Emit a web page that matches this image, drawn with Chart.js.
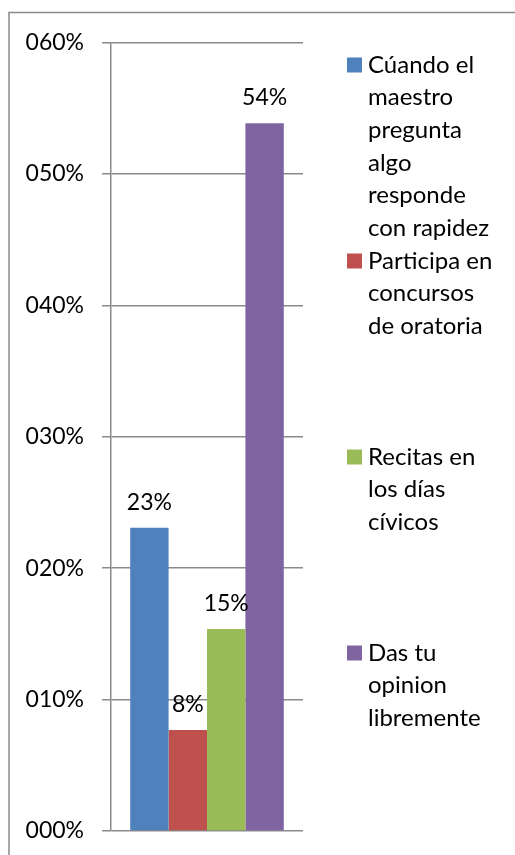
<!DOCTYPE html>
<html>
<head>
<meta charset="utf-8">
<script src="https://cdn.jsdelivr.net/npm/chart.js@4/dist/chart.umd.min.js"></script>
<style>
html,body{margin:0;padding:0;background:#fff;}
#wrap{position:relative;width:515px;height:855px;}
</style>
</head>
<body>
<div id="wrap"><canvas id="c" width="515" height="855"></canvas></div>
<script>
const categories = [''];
const seriesNames = [
  ['Cúando el','maestro','pregunta','algo','responde','con rapidez'],
  ['Participa en','concursos','de oratoria'],
  ['Recitas en','los días','cívicos'],
  ['Das tu','opinion','libremente']
];
const seriesValues = [0.2308, 0.0769, 0.1538, 0.5385];
const seriesColors = ['#4F81BD', '#C0504D', '#9BBB59', '#8064A2'];
const yTicks = [0, 0.1, 0.2, 0.3, 0.4, 0.5, 0.6];

const FONT = 'Lato, "Open Sans", sans-serif';
const GRID = '#8a8a8a';

function fmtTick(v){
  const p = Math.round(v*100);
  return String(p).padStart(3,'0') + '%';
}

const frame = {
  id:'frame',
  beforeDraw(chart){
    const ctx = chart.ctx;
    ctx.save();
    ctx.strokeStyle = GRID;
    ctx.lineWidth = 1.5;
    ctx.beginPath();
    ctx.moveTo(9, 855);
    ctx.lineTo(9, 12.5);
    ctx.lineTo(515, 12.5);
    ctx.stroke();
    ctx.restore();
  }
};

const valueLabels = {
  id:'valueLabels',
  afterDatasetsDraw(chart){
    const ctx = chart.ctx;
    ctx.save();
    ctx.font = '23px ' + FONT;
    ctx.fillStyle = '#000';
    ctx.textAlign = 'center';
    ctx.textBaseline = 'alphabetic';
    chart.data.datasets.forEach((ds, i) => {
      const meta = chart.getDatasetMeta(i);
      meta.data.forEach((bar, j) => {
        const v = ds.data[j];
        ctx.fillText(Math.round(v*100) + '%', bar.x, bar.y - 18);
      });
    });
    ctx.restore();
  }
};

const sideLegend = {
  id:'sideLegend',
  afterDraw(chart){
    const ctx = chart.ctx;
    ctx.save();
    ctx.font = '24px ' + FONT;
    ctx.textBaseline = 'middle';
    ctx.textAlign = 'left';
    const x0 = 347, box = 15, tx = 368, lh = 32.6, y0 = 65, step = 196;
    chart.data.datasets.forEach((ds, i) => {
      const yc = y0 + i*step;
      ctx.fillStyle = ds.backgroundColor;
      ctx.fillRect(x0, yc - box/2, box, box);
      ctx.fillStyle = '#000';
      ds.lines.forEach((ln, k) => ctx.fillText(ln, tx, yc + k*lh));
    });
    ctx.restore();
  }
};

new Chart(document.getElementById('c'), {
  type:'bar',
  data:{
    labels: categories,
    datasets: seriesNames.map((n, i) => ({
      label: n.join(' '),
      lines: n,
      data: [seriesValues[i]],
      backgroundColor: seriesColors[i],
      borderWidth: 0
    }))
  },
  options:{
    responsive:false,
    animation:false,
    devicePixelRatio:1,
    layout:{padding:{left:0, top:42.5, right:212, bottom:24}},
    plugins:{legend:{display:false}, tooltip:{enabled:false}},
    datasets:{bar:{categoryPercentage:0.8, barPercentage:1.0}},
    scales:{
      x:{display:false},
      y:{
        min:0, max:0.6,
        afterBuildTicks(scale){ scale.ticks = yTicks.map(v => ({value:v})); },
        afterFit(scale){ scale.width = 111; scale.paddingTop = 0; scale.paddingBottom = 0; },
        ticks:{
          callback: v => fmtTick(v),
          font:{family:FONT, size:23},
          color:'#000',
          padding:18
        },
        grid:{color:GRID, lineWidth:1.5, tickLength:9, drawTicks:true},
        border:{color:GRID, width:1.5}
      }
    }
  },
  plugins:[frame, valueLabels, sideLegend]
});
</script>
</body>
</html>
